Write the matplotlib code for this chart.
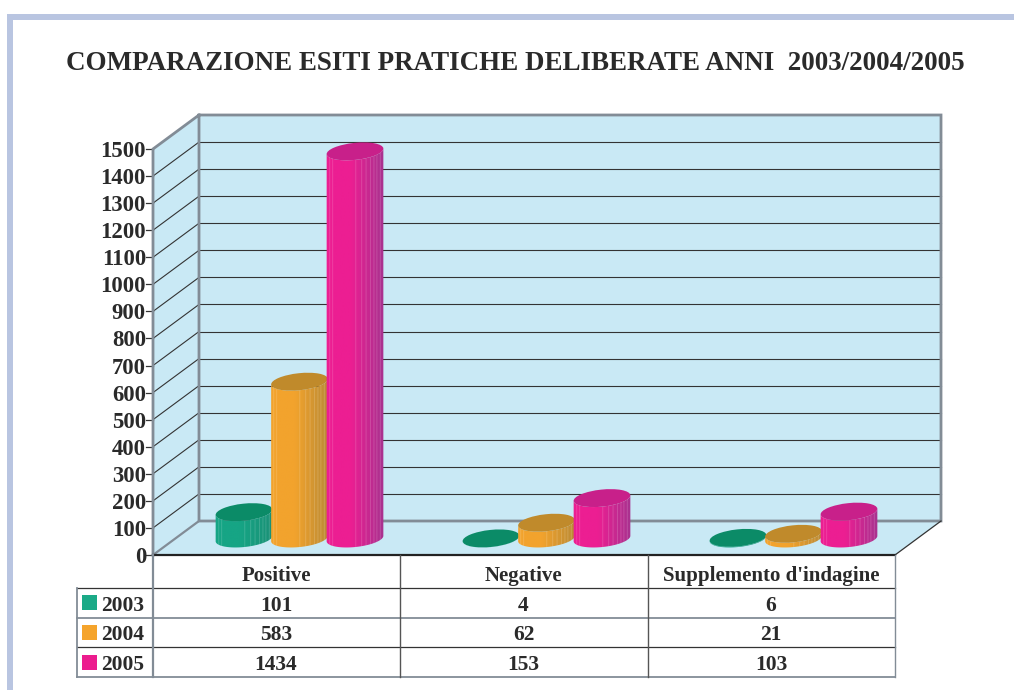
import numpy as np
import matplotlib
matplotlib.use("Agg")
import matplotlib.pyplot as plt
from matplotlib.colors import to_rgb
from matplotlib.patches import Ellipse, Polygon, Rectangle

title = "COMPARAZIONE ESITI PRATICHE DELIBERATE ANNI  2003/2004/2005"
categories = ["Positive", "Negative", "Supplemento d'indagine"]
years = ["2003", "2004", "2005"]
values_2003 = [101, 4, 6]
values_2004 = [583, 62, 21]
values_2005 = [1434, 153, 103]
ticks = list(range(0, 1501, 100))

series = [values_2003, values_2004, values_2005]
swatch = ["#1BAA87", "#F5A42C", "#EC1C8E"]
body_l = ["#16A585", "#F2A32D", "#EC1E92"]
body_r = ["#1A8F75", "#B98A35", "#A5338F"]
tops = ["#0B8B67", "#C08A2B", "#C8208A"]
WALL = "#C9E9F5"; EDGE = "#828C96"; INK = "#2A2A2A"
FONT = "Liberation Serif"

plt.rcParams["font.family"] = FONT
plt.rcParams["font.weight"] = "bold"
fig = plt.figure(figsize=(10.14, 6.9), dpi=100, facecolor="white")
ax = fig.add_axes([0, 0, 1, 1])

K = 406 / 1500          # pixels per unit
FX, FY = 153, 555       # front-left floor corner
DX, DY = 46, -34        # depth offset
WIDTH = 742             # wall width
def front(v): return FY - v * K
def back(v): return FY + DY - v * K

# page frame
ax.add_patch(Rectangle((7, 14), 1007, 5.5, fc="#B9C5E1", ec="none"))
ax.add_patch(Rectangle((7, 14), 5.5, 676, fc="#B9C5E1", ec="none"))
ax.text(515.5, 63.5, title, ha="center", va="center", fontsize=19.45, color=INK)

# 3D box
top, bot = max(ticks), 0
ax.add_patch(Rectangle((FX + DX, back(top)), WIDTH, back(bot) - back(top), fc=WALL, ec="none", zorder=1))
ax.add_patch(Polygon([(FX, front(top)), (FX + DX, back(top)), (FX + DX, back(bot)), (FX, front(bot))],
                     fc=WALL, ec="none", zorder=1))
ax.add_patch(Polygon([(FX, FY), (FX + DX, FY + DY), (FX + DX + WIDTH, FY + DY), (FX + WIDTH, FY)],
                     fc=WALL, ec="none", zorder=1))
for t in ticks[1:-1]:
    ax.plot([FX + DX, FX + DX + WIDTH], [back(t)] * 2, color="#333333", lw=0.8, zorder=2)
    ax.plot([FX, FX + DX], [front(t), back(t)], color="#333333", lw=0.8, zorder=2)
for t in ticks:
    ax.plot([FX - 7, FX], [front(t)] * 2, color="#333333", lw=0.9, zorder=2)
    ax.text(FX - 7, front(t) + 2.5, str(t), ha="right", va="center", fontsize=16.4, color=INK)
ax.plot([FX, FX + DX], [FY, FY + DY], color=EDGE, lw=1.6, zorder=3)
ax.plot([FX, FX, FX + DX, FX + DX + WIDTH, FX + DX + WIDTH, FX + DX, FX + DX],
        [FY, front(top), back(top), back(top), back(bot), back(bot), back(top)],
        color=EDGE, lw=2.0, zorder=3, solid_joinstyle="miter")
ax.plot([FX + DX + WIDTH, FX + WIDTH], [FY + DY, FY], color="#333333", lw=0.9, zorder=3)

# cylinders
A, B, PHI = 28.5, 8.5, np.deg2rad(-6)
BASE = 538.5
STRIPES = [0.06, 0.11, 0.50, 0.60, 0.68, 0.75, 0.81, 0.86, 0.92]

def ell(cx, cy, th):
    return np.c_[cx + A * np.cos(th) * np.cos(PHI) - B * np.sin(th) * np.sin(PHI),
                 cy + A * np.cos(th) * np.sin(PHI) + B * np.sin(th) * np.cos(PHI)]

def cylinder(cx, v, i, z):
    ty = BASE + 1 - v * K
    th = np.linspace(0, np.pi, 60)
    outline = np.vstack([ell(cx, BASE, th), ell(cx, ty, th[::-1])])
    n = 120
    t = (np.arange(n) + .5) / n
    mix = np.clip((t - 0.42) / 0.58, 0, 1)[:, None]
    row = np.array(to_rgb(body_l[i])) * (1 - mix) + np.array(to_rgb(body_r[i])) * mix
    for s in STRIPES:
        row[int(s * n)] = row[int(s * n)] * 0.7 + 0.3
    im = ax.imshow(row[None, :, :], extent=(cx - A - 1, cx + A + 1, BASE + B + 4, ty - B - 4),
                   aspect="auto", interpolation="bilinear", zorder=z)
    clip = Polygon(outline, transform=ax.transData, fc="none", ec="none")
    ax.add_patch(clip)
    im.set_clip_path(clip)
    ax.add_patch(Ellipse((cx, ty), 2 * A, 2 * B, angle=np.rad2deg(PHI), fc=tops[i], ec="none", zorder=z + 0.5))

group_x = [299.5, 546.5, 793.5]
for g, gx in enumerate(group_x):
    for i, vals in enumerate(series):
        cylinder(gx + (i - 1) * 55.5, vals[g], i, 4 + i)

# data table
rows_y = [555, 588, 617.5, 647, 677]
cols_x = [153, 400, 648, 895]
ax.plot([FX, FX + WIDTH], [FY, FY], color="#222222", lw=1.6, zorder=8)
for k, y in enumerate(rows_y[1:]):
    ax.plot([77, 895], [y, y], color=EDGE if k in (1, 3) else "#333333", lw=1.3 if k in (1, 3) else 0.9, zorder=8)
ax.plot([77, 77], [rows_y[1], rows_y[-1]], color=EDGE, lw=1.3, zorder=8)
ax.plot([FX, FX], [FY, rows_y[-1]], color=EDGE, lw=1.6, zorder=8)
for x in cols_x[1:]:
    ax.plot([x, x], [FY, rows_y[-1]], color=EDGE if x == 895 else "#555555", lw=1.0, zorder=8)
for c, name in enumerate(categories):
    xc = (cols_x[c] + cols_x[c + 1]) / 2 - 0.5
    ax.text(xc, 576, name, ha="center", va="center", fontsize=15, color=INK)
    for i, vals in enumerate(series):
        ax.text(xc, (rows_y[i + 1] + rows_y[i + 2]) / 2 + 3, str(vals[c]), ha="center", va="center",
                fontsize=15.5, color=INK)
for i, y in enumerate(years):
    yc = (rows_y[i + 1] + rows_y[i + 2]) / 2
    ax.add_patch(Rectangle((82, yc - 7.5), 15, 15, fc=swatch[i], ec="none", zorder=8))
    ax.text(101, yc + 3, y, ha="left", va="center", fontsize=15.5, color=INK)

ax.set_xlim(0, 1014)
ax.set_ylim(690, 0)
ax.axis("off")
fig.savefig("out.png", dpi=100, facecolor="white")
